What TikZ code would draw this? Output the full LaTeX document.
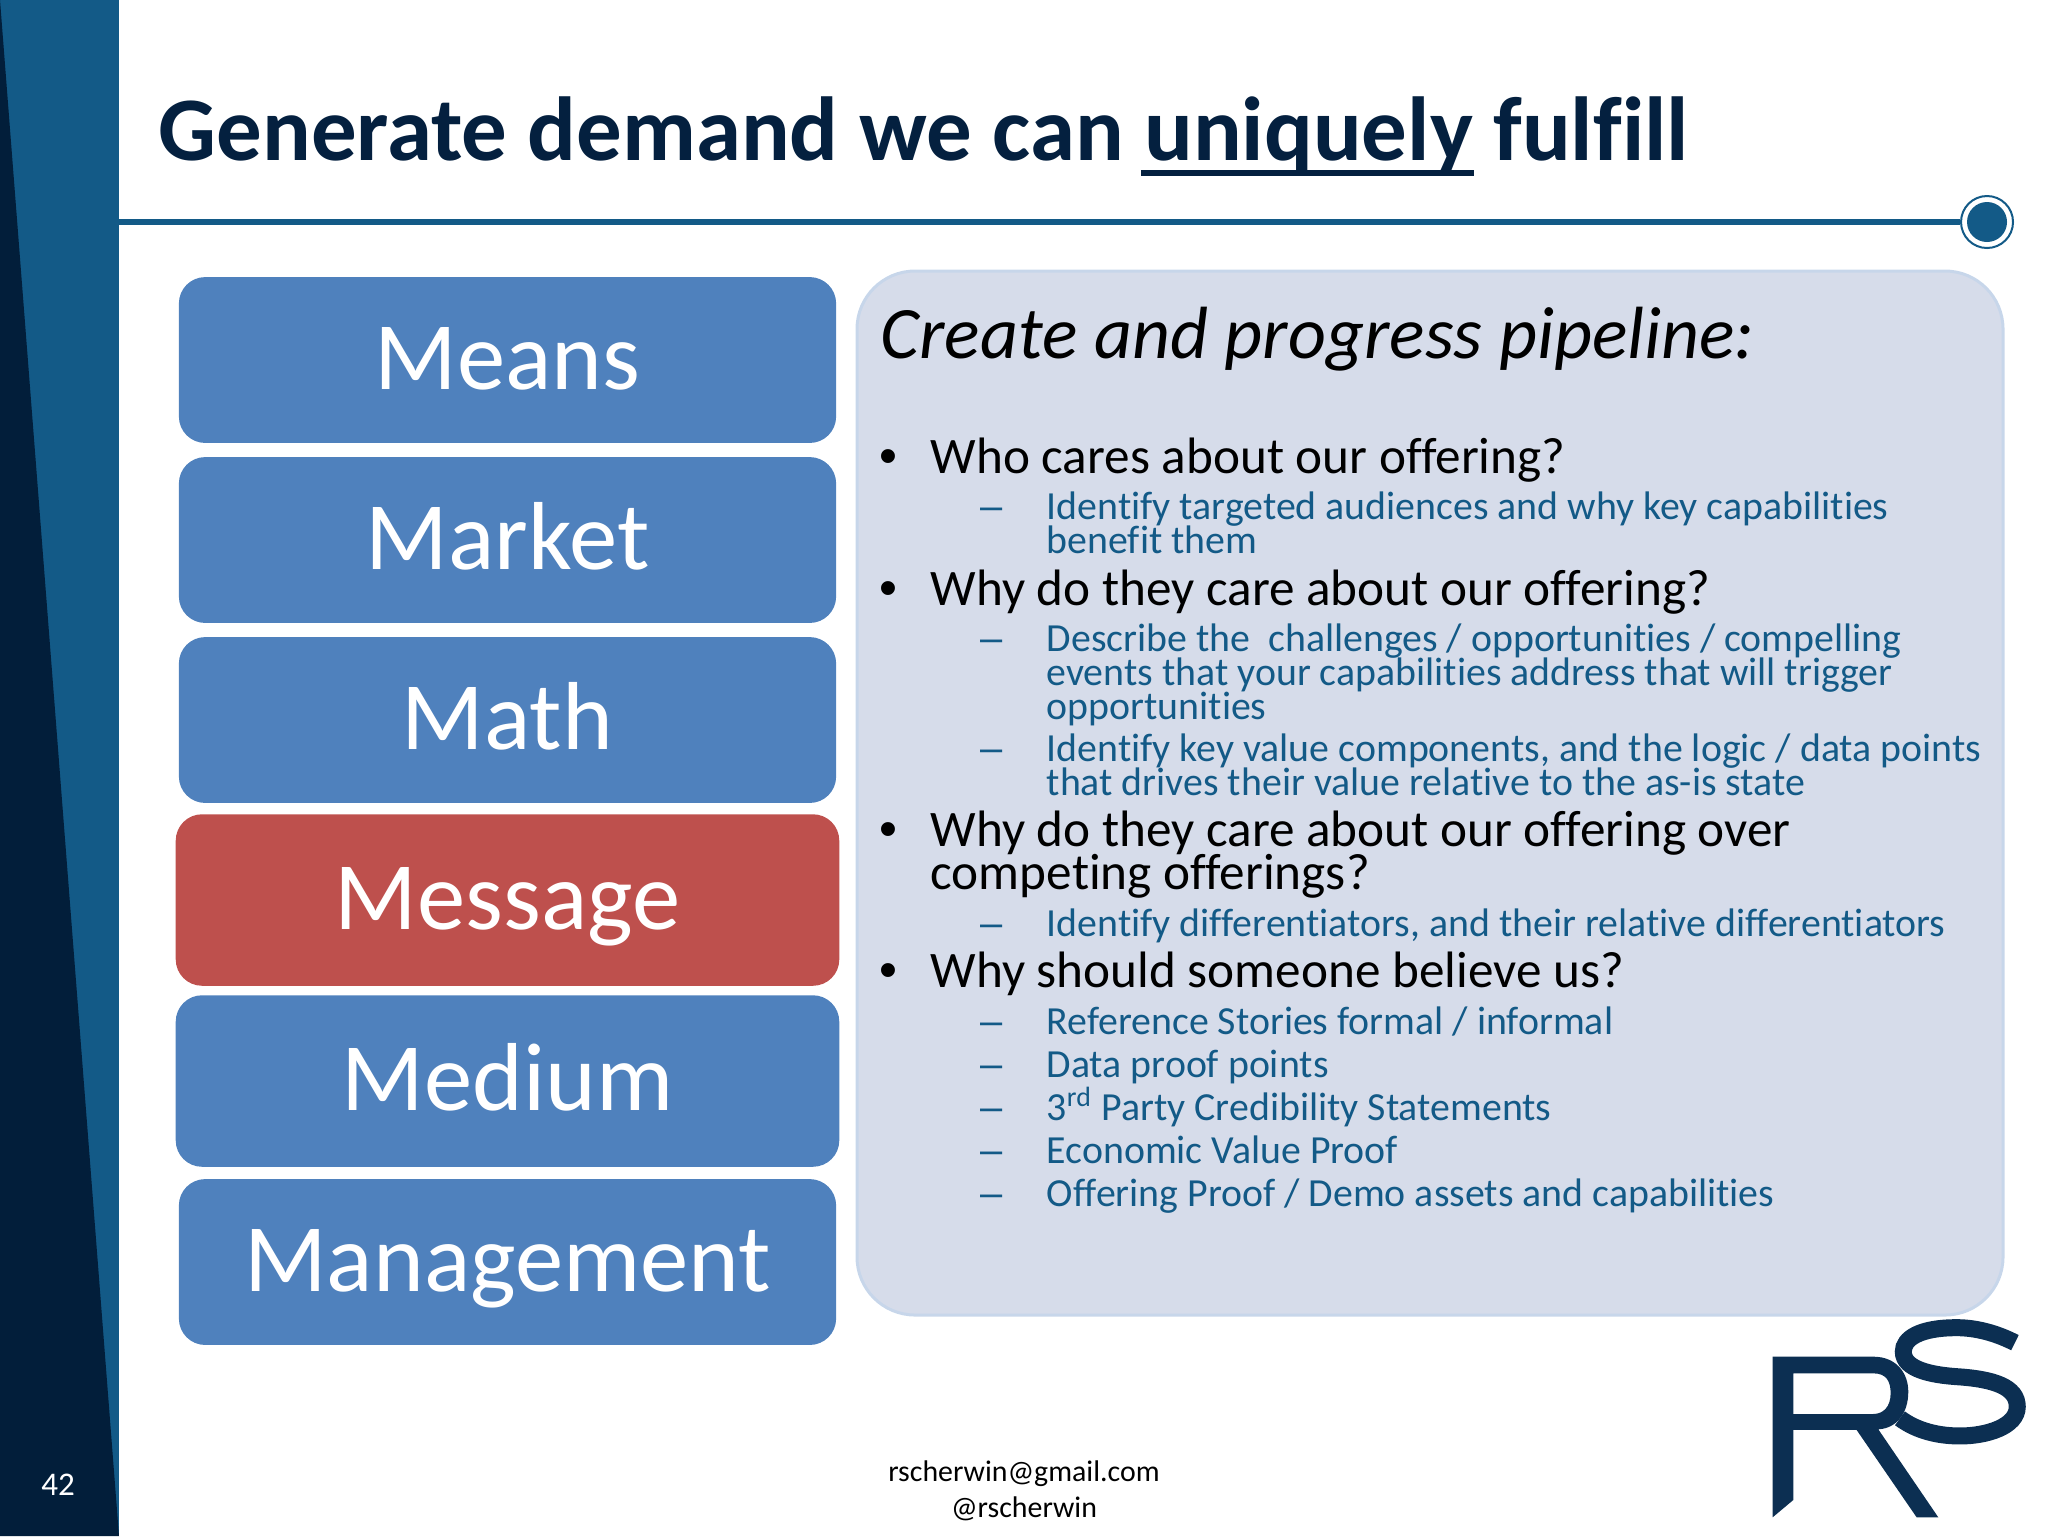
\documentclass[tikz,border=0pt]{standalone}
\usepackage{fontspec}
\setmainfont{Carlito}[Ligatures=NoCommon]
\newfontfamily\markfont{Liberation Sans}
\definecolor{sidebar}{HTML}{135A87}
\definecolor{sidedark}{HTML}{021E3A}
\definecolor{titleink}{HTML}{04203F}
\definecolor{boxblue}{HTML}{4F81BD}
\definecolor{boxred}{HTML}{BE504D}
\definecolor{panelfill}{HTML}{D6DCEA}
\definecolor{panelline}{HTML}{C7D6EA}
\definecolor{logoink}{HTML}{0C2F52}
\newsavebox{\ulbox}
\newcommand{\thickul}[1]{\sbox{\ulbox}{#1}\rlap{\kern-1pt\rule[-4.55pt]{\dimexpr\wd\ulbox+1.2pt}{1.85pt}}\usebox{\ulbox}}
\tikzset{
  stackbox/.style={rounded corners=7.5pt,fill=boxblue,text=white,inner sep=0pt,
    minimum width=187pt,minimum height=47.2pt,text height=18pt,text depth=1pt,
    font=\fontsize{27.5}{27.5}\selectfont},
  redbox/.style={stackbox,fill=boxred,minimum width=188.8pt,minimum height=48.8pt},
  widebox/.style={stackbox,minimum width=188.8pt,minimum height=48.8pt},
  lineleft/.style={anchor=base west,inner sep=0pt},
  bullettext/.style={lineleft,font=\fontsize{14.57}{14.57}\selectfont},
  subtext/.style={lineleft,text=sidebar,font=\fontsize{11.33}{11.33}\selectfont},
  footer/.style={inner sep=0pt,font=\fontsize{8.5}{8.5}\selectfont},
}
\begin{document}
\begin{tikzpicture}[x=0.1mm,y=-0.1mm]
  \useasboundingbox (0,0) rectangle (2048,1536);

  % side bar
  \fill[sidebar] (0,0) rectangle (119,1536);
  \fill[sidedark] (0,0) -- (119,1536) -- (0,1536) -- cycle;
  \node[footer,text=white,font=\fontsize{9.4}{9.4}\selectfont] (pagenum) at (58,1485) {42};

  % title and rule
  \node[lineleft,text=titleink,font=\fontsize{25.86}{25.86}\selectfont\bfseries] (title) at (158,160)
    {Generate demand we can \thickul{uniquely} fulfill};
  \coordinate (rulestart) at (119,222);
  \node[circle,draw=sidebar,line width=0.2mm,fill=white,minimum size=52*0.1mm,inner sep=0pt] (knob) at (1987,222) {};
  \fill[sidebar] (knob.center) circle (20);
  \draw[sidebar,line width=0.6mm] (rulestart) -- (knob.west);

  % left stack
  \node[stackbox] (means) at (507.5,360) {Means};
  \node[stackbox] (market) at (507.5,540) {Market};
  \node[stackbox] (math) at (507.5,720) {Math};
  \node[redbox] (message) at (507.5,900) {Message};
  \node[widebox] (medium) at (507.5,1081) {Medium};
  \node[stackbox] (management) at (507.5,1262) {Management};

  % right panel
  \node[rounded corners=16.5pt,fill=panelfill,draw=panelline,line width=0.3mm,
    minimum width=1146*0.1mm,minimum height=1044*0.1mm,inner sep=0pt] (panel) at (1430,793) {};
  \node[lineleft,font=\fontsize{21.05}{21.05}\selectfont\itshape] (panelhead) at (880,358)
    {Create and progress pipeline:};

  % questions
  \foreach \n/\y/\txt in {1/473/{Who cares about our offering?},
      2/605/{Why do they care about our offering?},
      3/846/{Why do they care about our offering over},
      4/987.5/{Why should someone believe us?}}{
    \node[bullettext,font=\fontsize{14.57}{14.57}\markfont] (mark\n) at (879,\y) {•};
    \node[bullettext] (ask\n) at (930,\y) {\txt};
  }
  \node[bullettext] (ask3b) at (930,889) {competing offerings?};

  % answers, first line of each carries a dash
  \foreach \n/\y/\txt in {1/519/{Identify targeted audiences and why key capabilities},
      2/651/{Describe the\ \ challenges / opportunities / compelling},
      3/761/{Identify key value components, and the logic / data points},
      4/936/{Identify differentiators, and their relative differentiators},
      5/1034/{Reference Stories formal / informal},
      6/1077/{Data proof points},
      7/1120/{3\textsuperscript{rd} Party Credibility Statements},
      8/1163/{Economic Value Proof},
      9/1206/{Offering Proof / Demo assets and capabilities}}{
    \node[subtext,font=\fontsize{11.33}{11.33}\markfont] (dash\n) at (980,\y) {–};
    \node[subtext] (sub\n) at (1046,\y) {\txt};
  }
  \node[subtext] (sub1b) at (1046,553) {benefit them};
  \node[subtext] (sub2b) at (1046,685) {events that your capabilities address that will trigger};
  \node[subtext] (sub2c) at (1046,719) {opportunities};
  \node[subtext] (sub3b) at (1046,795) {that drives their value relative to the as-is state};

  % footer
  \node[footer] (mail) at (1024,1474) {rscherwin@gmail.com};
  \node[footer] (handle) at (1024,1509) {@rscherwin};

  % logo
  \begin{scope}[shift={(1700,1280)},x=0.03333mm,y=-0.03333mm]
    \fill[logoink,even odd rule] (218,230) -- (520,230) .. controls (590,230) and (625,280) .. (625,335)
      .. controls (625,400) and (590,445) .. (535,448) -- (715,712) -- (650,712) -- (470,450)
      -- (280,450) -- (280,660) -- (218,712) -- cycle
      (280,280) -- (520,280) .. controls (560,280) and (572,305) .. (572,340)
      .. controls (572,380) and (550,402) .. (520,402) -- (280,402) -- cycle;
    \draw[logoink,line width=1.7mm] (945,188) .. controls (890,160) and (830,143) .. (770,143)
      .. controls (660,143) and (610,175) .. (610,215) .. controls (610,270) and (700,285) .. (770,290)
      .. controls (880,297) and (952,320) .. (952,380) .. controls (952,440) and (860,468) .. (780,468)
      .. controls (700,468) and (640,445) .. (600,415);
  \end{scope}
\end{tikzpicture}
\end{document}
